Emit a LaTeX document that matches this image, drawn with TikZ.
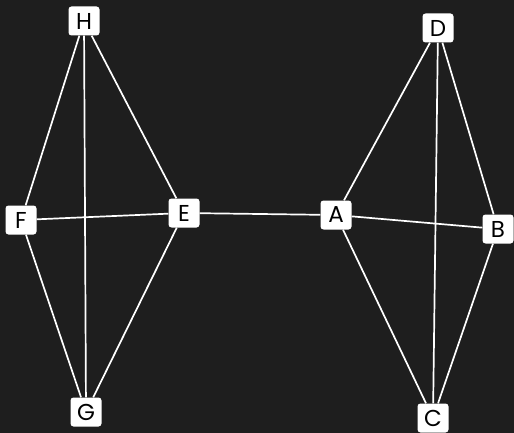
\documentclass[tikz,border=0pt]{standalone}
\usepackage{fontspec}
\setmainfont{Poppins}
\usepackage{xcolor}
\definecolor{bgdark}{HTML}{1E1E1E}
\begin{document}
\begin{tikzpicture}[
  x=1pt, y=-1pt,
  vertex/.style={fill=white, rounded corners=3pt, minimum width=31pt, minimum height=29pt, inner sep=0pt, font=\fontsize{23}{26}\selectfont, text=black},
  link/.style={white, line width=1.7pt}
]
\fill[bgdark] (0,0) rectangle (514,433);
\useasboundingbox (0,0) rectangle (514,433);
% left group
\node[vertex] (H) at (84,21) {H};
\node[vertex] (F) at (21,220) {F};
\node[vertex] (E) at (184,213) {E};
\node[vertex] (G) at (86,412) {G};
% right group
\node[vertex] (A) at (336,215) {A};
\node[vertex] (D) at (438,28) {D};
\node[vertex] (B) at (498,229) {B};
\node[vertex] (C) at (433,418) {C};
\draw[link] (H) -- (F);
\draw[link] (H) -- (G);
\draw[link] (H) -- (E);
\draw[link] (F) -- (E);
\draw[link] (F) -- (G);
\draw[link] (E) -- (G);
\draw[link] (E) -- (A);
\draw[link] (A) -- (D);
\draw[link] (A) -- (B);
\draw[link] (A) -- (C);
\draw[link] (D) -- (B);
\draw[link] (D) -- (C);
\draw[link] (B) -- (C);
\end{tikzpicture}
\end{document}
